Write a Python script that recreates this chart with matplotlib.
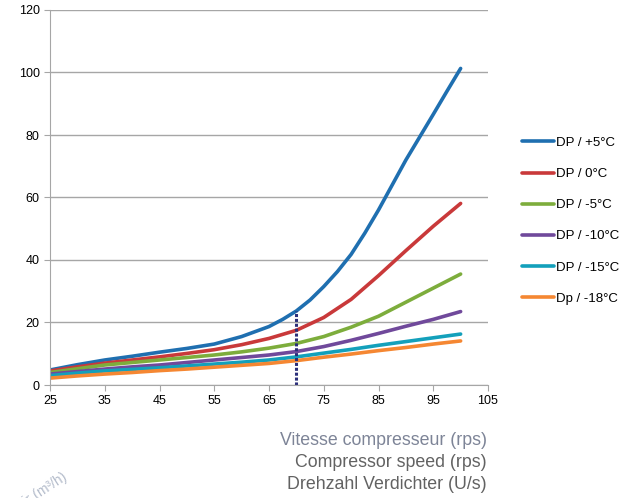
import matplotlib.pyplot as plt

# compressor speed (rps)
speed = [25, 30, 35, 40, 45, 50, 55, 60, 65, 70, 75, 80, 85, 90, 95, 100]
# the +5°C curve is steep, read it at a finer step
speed_p5 = [25, 30, 35, 40, 45, 50, 55, 60, 65, 67.5, 70, 72.5, 75, 77.5, 80, 82.5, 85,
            87.5, 90, 92.5, 95, 97.5, 100]

dp_p5 = [4.8, 6.5, 8.0, 9.2, 10.5, 11.7, 13.1, 15.5, 18.7, 21.0, 23.7, 27.2, 31.5, 36.3,
         41.8, 48.6, 56.0, 64.0, 72.0, 79.3, 86.6, 94.0, 101.3]
dp_0 = [4.5, 5.8, 7.0, 8.0, 9.0, 10.1, 11.3, 12.9, 14.9, 17.5, 21.6, 27.4, 35.0, 43.0, 50.8, 58.1]
dp_m5 = [4.0, 5.2, 6.4, 7.2, 8.0, 8.8, 9.6, 10.6, 11.8, 13.3, 15.5, 18.5, 22.0, 26.5, 31.0, 35.5]
dp_m10 = [3.5, 4.3, 5.1, 5.8, 6.4, 7.2, 8.0, 8.8, 9.6, 10.7, 12.3, 14.3, 16.5, 18.8, 21.0, 23.5]
dp_m15 = [3.0, 3.8, 4.5, 5.0, 5.5, 6.1, 6.7, 7.3, 8.0, 9.0, 10.2, 11.4, 12.7, 13.9, 15.1, 16.3]
dp_m18 = [2.2, 2.9, 3.5, 4.0, 4.6, 5.1, 5.7, 6.3, 6.9, 7.8, 8.9, 9.9, 11.0, 12.0, 13.1, 14.1]

labels = ["DP / +5°C", "DP / 0°C", "DP / -5°C", "DP / -10°C", "DP / -15°C", "Dp / -18°C"]
colors = ["#1f6fb0", "#c9393a", "#7dad3c", "#70499b", "#13a0bb", "#f58732"]

marker_speed = 70

plt.rcParams['font.family'] = ['Liberation Sans', 'DejaVu Sans']

fig = plt.figure(figsize=(6.35, 4.98), dpi=100)
ax = fig.add_axes([50 / 635, 1 - 385 / 498, 438 / 635, 375 / 498])

xs = [speed_p5, speed, speed, speed, speed, speed]
series = [dp_p5, dp_0, dp_m5, dp_m10, dp_m15, dp_m18]
for x, s, lab, c in zip(xs, series, labels, colors):
    ax.plot(x, s, color=c, lw=2.6, label=lab, solid_capstyle='round', solid_joinstyle='round')

top = dp_p5[speed_p5.index(marker_speed)]
ax.plot([marker_speed, marker_speed], [0, top], color="#2b2f7a", lw=2.2, ls=(0, (1, 0.6)))

ax.set_xlim(25, 105)
ax.set_ylim(0, 120)
ax.set_xticks(range(25, 106, 10))
ax.set_yticks(range(0, 121, 20))
ax.yaxis.grid(True, color="#a6a6a6", lw=1)
ax.set_axisbelow(True)
for side in ["top", "right"]:
    ax.spines[side].set_visible(False)
for side in ["left", "bottom"]:
    ax.spines[side].set_color("#a6a6a6")
ax.tick_params(axis='both', colors="#a6a6a6", labelcolor="black", labelsize=9, length=4)

fig.legend(loc='upper left', bbox_to_anchor=(510 / 635, 1 - 125 / 498), frameon=False,
           fontsize=9.5, handlelength=2.4, handletextpad=0.2, labelspacing=1.43)

fig.text(487 / 635, 1 - 440 / 498, "Vitesse compresseur (rps)", ha='right', va='center',
         fontsize=12.8, color="#7d8497")
fig.text(487 / 635, 1 - 462 / 498, "Compressor speed (rps)", ha='right', va='center',
         fontsize=12.8, color="#626262")
fig.text(487 / 635, 1 - 484 / 498, "Drehzahl Verdichter (U/s)", ha='right', va='center',
         fontsize=12.8, color="#626262")

fig.text(70 / 635, 1 - 482 / 498, "Débit d'air (m³/h)", ha='right', va='bottom', rotation=33,
         rotation_mode='anchor', fontsize=10, color="#b4bccb")

fig.savefig("out.png", dpi=100)
